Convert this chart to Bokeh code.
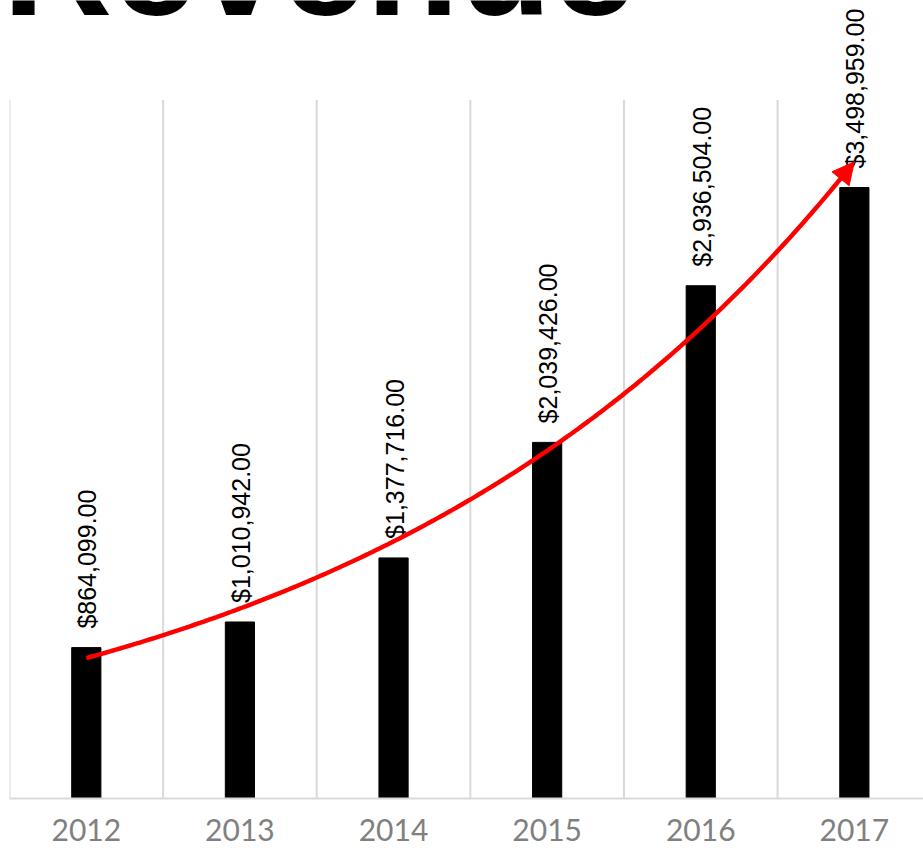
import numpy as np
from bokeh.plotting import figure
from bokeh.models import Range1d, FixedTicker, Label, Arrow, NormalHead, ColumnDataSource
from bokeh.core.properties import value
from bokeh.embed import file_html
from bokeh.resources import INLINE

# ---- data ----
years = ["2012", "2013", "2014", "2015", "2016", "2017"]
revenue = [864099, 1010942, 1377716, 2039426, 2936504, 3498959]
value_labels = ["$864,099.00", "$1,010,942.00", "$1,377,716.00",
                "$2,039,426.00", "$2,936,504.00", "$3,498,959.00"]
title_text = "Revenue"

xs = list(range(len(years)))

# exponential trendline fitted to the data
b, a = np.polyfit(xs, np.log(revenue), 1)
tx = np.linspace(0, len(years) - 1.06, 200)
ty = np.exp(a + b * tx)

W, H = 923, 850
frame_h = 798
y_top = 4.57e6

p = figure(width=W, height=H, output_backend="svg", toolbar_location=None,
           x_range=Range1d(-0.5, 5.45), y_range=Range1d(0, y_top),
           y_axis_location=None, min_border_left=9, min_border_right=0,
           min_border_top=0, min_border_bottom=52)
p.outline_line_color = None
p.xgrid.visible = False
p.ygrid.visible = False
p.background_fill_color = "white"
p.border_fill_color = "white"

# category separator gridlines up to 4M
bounds = [i - 0.5 for i in range(len(years) + 1)]
p.segment(x0=bounds, x1=bounds, y0=[0] * len(bounds), y1=[4.0e6] * len(bounds),
          line_color="#d9d9d9", line_width=2)

src = ColumnDataSource(dict(x=xs, top=revenue, lab=value_labels))
p.vbar(x="x", top="top", width=0.19, bottom=0, source=src,
       fill_color="black", line_color="black")

p.text(x="x", y="top", text="lab", source=src, angle=np.pi / 2,
       text_align="left", text_baseline="middle", y_offset=-19, x_offset=1,
       text_font=value("Liberation Sans"), text_font_size="25px",
       text_color="black")

# trendline with arrow
p.line(tx, ty, line_color="#ff0000", line_width=4.5)
x_end = len(years) - 1
p.add_layout(Arrow(end=NormalHead(size=22, fill_color="#ff0000", line_color="#ff0000"),
                   x_start=x_end - 0.08, y_start=float(np.exp(a + b * (x_end - 0.08))),
                   x_end=x_end, y_end=float(np.exp(a + b * x_end)),
                   line_color="#ff0000", line_width=4.5))

# axis
ax = p.xaxis[0]
ax.ticker = FixedTicker(ticks=xs)
ax.major_label_overrides = {i: y for i, y in enumerate(years)}
ax.major_tick_line_color = None
ax.minor_tick_line_color = None
ax.axis_line_color = "#d9d9d9"
ax.axis_line_width = 2
ax.major_label_text_font = "Lato"
ax.major_label_text_font_size = "30px"
ax.major_label_text_color = "#808080"
ax.major_label_standoff = 14

# big title, mostly cut off at the top
upp = y_top / frame_h
p.add_layout(Label(x=-0.5, y=(frame_h - 13) * upp, text=title_text,
                   x_offset=-7, y_offset=52, text_font="Liberation Sans",
                   text_font_style="bold",
                   text_font_size="152px", text_color="black",
                   text_baseline="alphabetic", text_align="left"))

open("out.html", "w").write(file_html(p, INLINE))
